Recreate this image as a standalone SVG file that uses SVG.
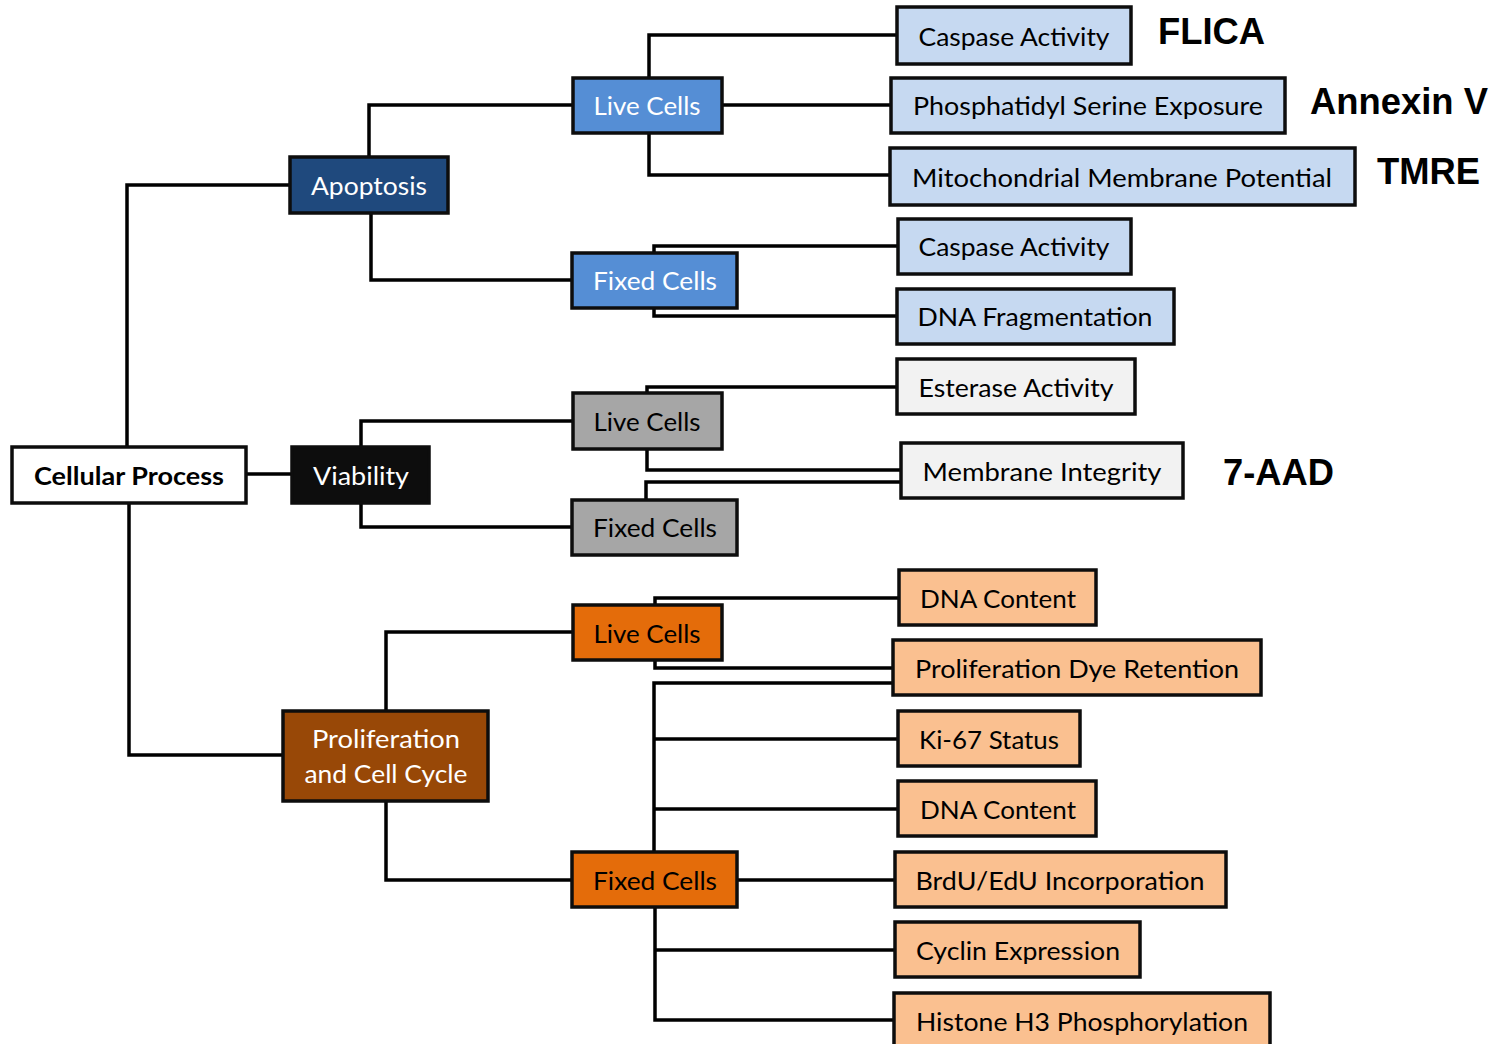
<svg xmlns="http://www.w3.org/2000/svg" width="1501" height="1044" viewBox="0 0 1501 1044">
<style>
.b{stroke:#0d0d0d;stroke-width:3.5}
.c{fill:none;stroke:#000;stroke-width:3.5}
.t{font-family:Lato,"Open Sans","Liberation Sans",sans-serif;font-size:25px;text-anchor:middle}
.w{fill:#fff}
.k{fill:#000}
.lab{font-family:"Liberation Sans",Arial,sans-serif;font-weight:bold;font-size:36px;fill:#000}
.dblue{fill:#1f497d}.blue{fill:#558ed5}.lblue{fill:#c6d9f1}
.blk{fill:#0d0d0d}.gray{fill:#a6a6a6}.lgray{fill:#f2f2f2}
.brown{fill:#984807}.orange{fill:#e46c0a}.lorange{fill:#fac090}
</style>
<rect width="1501" height="1044" fill="#fff"/>
<g id="connectors">
<path class="c" d="M127,447 V185 H290"/>
<path class="c" d="M246,474 H292"/>
<path class="c" d="M129,503 V755 H283"/>
<path class="c" d="M369,157 V105 H573"/>
<path class="c" d="M371,213 V280 H572"/>
<path class="c" d="M649,78 V35 H897"/>
<path class="c" d="M722,105 H891"/>
<path class="c" d="M649,133 V175 H890"/>
<path class="c" d="M654,253 V246 H898"/>
<path class="c" d="M654,308 V316 H897"/>
<path class="c" d="M361,446 V421 H573"/>
<path class="c" d="M361,503 V527 H572"/>
<path class="c" d="M647,393 V387 H897"/>
<path class="c" d="M647,449 V470 H901"/>
<path class="c" d="M646,500 V482 H901"/>
<path class="c" d="M386,711 V632 H573"/>
<path class="c" d="M386,801 V880 H572"/>
<path class="c" d="M655,605 V598 H899"/>
<path class="c" d="M655,660 V668 H893"/>
<path class="c" d="M654,852 V683 H893"/>
<path class="c" d="M654,739 H898"/>
<path class="c" d="M654,809 H898"/>
<path class="c" d="M737,880 H895"/>
<path class="c" d="M655,907 V1020 H894"/>
<path class="c" d="M655,950 H895"/>
</g>
<g id="cellular-process"><rect class="b" x="12" y="447" width="234" height="56" fill="#fff"/><text class="t k" x="129" y="485" font-weight="bold" textLength="190" lengthAdjust="spacingAndGlyphs">Cellular Process</text></g>
<g id="apoptosis"><rect class="b dblue" x="290" y="157" width="158" height="56"/><text class="t w" x="369" y="195" textLength="116" lengthAdjust="spacingAndGlyphs">Apoptosis</text></g>
<g id="viability"><rect class="b blk" x="292" y="447" width="137" height="56"/><text class="t w" x="361" y="485" textLength="96" lengthAdjust="spacingAndGlyphs">Viability</text></g>
<g id="proliferation"><rect class="b brown" x="283" y="711" width="205" height="90"/><text class="t w" x="386" y="748" textLength="148" lengthAdjust="spacingAndGlyphs">Proliferation</text><text class="t w" x="386" y="783" textLength="163" lengthAdjust="spacingAndGlyphs">and Cell Cycle</text></g>

<g id="apop-live"><rect class="b blue" x="573" y="78" width="149" height="55"/><text class="t w" x="647" y="115" textLength="107" lengthAdjust="spacingAndGlyphs">Live Cells</text></g>
<g id="apop-fixed"><rect class="b blue" x="572" y="253" width="165" height="55"/><text class="t w" x="655" y="290" textLength="124" lengthAdjust="spacingAndGlyphs">Fixed Cells</text></g>
<g id="apop-live-caspase"><rect class="b lblue" x="897" y="7" width="234" height="57"/><text class="t k" x="1014" y="46" textLength="191" lengthAdjust="spacingAndGlyphs">Caspase Activity</text></g>
<g id="apop-live-ps"><rect class="b lblue" x="891" y="78" width="394" height="55"/><text class="t k" x="1088" y="115" textLength="350" lengthAdjust="spacingAndGlyphs">Phosphatidyl Serine Exposure</text></g>
<g id="apop-live-mmp"><rect class="b lblue" x="890" y="148" width="465" height="57"/><text class="t k" x="1122" y="187" textLength="420" lengthAdjust="spacingAndGlyphs">Mitochondrial Membrane Potential</text></g>
<g id="apop-fixed-caspase"><rect class="b lblue" x="898" y="219" width="233" height="55"/><text class="t k" x="1014" y="256" textLength="191" lengthAdjust="spacingAndGlyphs">Caspase Activity</text></g>
<g id="apop-fixed-dna"><rect class="b lblue" x="897" y="289" width="277" height="55"/><text class="t k" x="1035" y="326" textLength="235" lengthAdjust="spacingAndGlyphs">DNA Fragmentation</text></g>

<g id="via-live"><rect class="b gray" x="573" y="393" width="149" height="56"/><text class="t k" x="647" y="431" textLength="107" lengthAdjust="spacingAndGlyphs">Live Cells</text></g>
<g id="via-fixed"><rect class="b gray" x="572" y="500" width="165" height="55"/><text class="t k" x="655" y="537" textLength="124" lengthAdjust="spacingAndGlyphs">Fixed Cells</text></g>
<g id="via-esterase"><rect class="b lgray" x="897" y="359" width="238" height="55"/><text class="t k" x="1016" y="397" textLength="195" lengthAdjust="spacingAndGlyphs">Esterase Activity</text></g>
<g id="via-membrane"><rect class="b lgray" x="901" y="443" width="282" height="55"/><text class="t k" x="1042" y="481" textLength="239" lengthAdjust="spacingAndGlyphs">Membrane Integrity</text></g>

<g id="pro-live"><rect class="b orange" x="573" y="605" width="149" height="55"/><text class="t k" x="647" y="643" textLength="107" lengthAdjust="spacingAndGlyphs">Live Cells</text></g>
<g id="pro-fixed"><rect class="b orange" x="572" y="852" width="165" height="55"/><text class="t k" x="655" y="890" textLength="124" lengthAdjust="spacingAndGlyphs">Fixed Cells</text></g>
<g id="pro-live-dna"><rect class="b lorange" x="899" y="570" width="197" height="55"/><text class="t k" x="998" y="608" textLength="156" lengthAdjust="spacingAndGlyphs">DNA Content</text></g>
<g id="pro-dye"><rect class="b lorange" x="893" y="640" width="368" height="55"/><text class="t k" x="1077" y="678" textLength="324" lengthAdjust="spacingAndGlyphs">Proliferation Dye Retention</text></g>
<g id="pro-ki67"><rect class="b lorange" x="898" y="711" width="182" height="55"/><text class="t k" x="989" y="749" textLength="140" lengthAdjust="spacingAndGlyphs">Ki-67 Status</text></g>
<g id="pro-fixed-dna"><rect class="b lorange" x="898" y="781" width="198" height="55"/><text class="t k" x="998" y="819" textLength="156" lengthAdjust="spacingAndGlyphs">DNA Content</text></g>
<g id="pro-brdu"><rect class="b lorange" x="895" y="852" width="331" height="55"/><text class="t k" x="1060" y="890" textLength="289" lengthAdjust="spacingAndGlyphs">BrdU/EdU Incorporation</text></g>
<g id="pro-cyclin"><rect class="b lorange" x="895" y="922" width="245" height="55"/><text class="t k" x="1018" y="960" textLength="204" lengthAdjust="spacingAndGlyphs">Cyclin Expression</text></g>
<g id="pro-histone"><rect class="b lorange" x="894" y="993" width="376" height="60"/><text class="t k" x="1082" y="1031" textLength="332" lengthAdjust="spacingAndGlyphs">Histone H3 Phosphorylation</text></g>

<g id="labels">
<text class="lab" x="1158" y="44" textLength="107" lengthAdjust="spacingAndGlyphs">FLICA</text>
<text class="lab" x="1310" y="114" textLength="178" lengthAdjust="spacingAndGlyphs">Annexin V</text>
<text class="lab" x="1377" y="184" textLength="103" lengthAdjust="spacingAndGlyphs">TMRE</text>
<text class="lab" x="1223" y="485" textLength="111" lengthAdjust="spacingAndGlyphs">7-AAD</text>
</g>
</svg>
